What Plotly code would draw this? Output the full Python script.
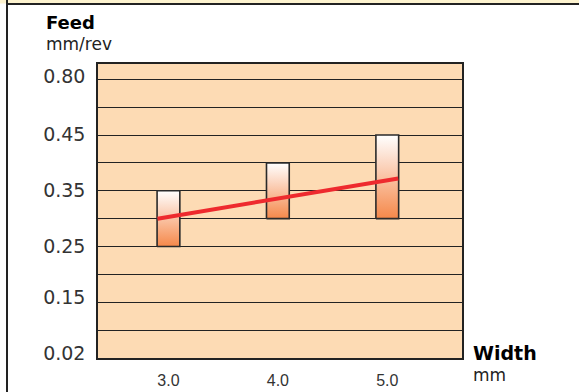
import plotly.graph_objects as go

# ---- data ----
widths = [3.0, 4.0, 5.0]
feed_low = [0.25, 0.30, 0.30]
feed_high = [0.35, 0.40, 0.45]
trend_x = [2.9, 5.1]
trend_y = [0.30, 0.372]
y_tick_vals = [0.555, 0.451, 0.351, 0.251, 0.1595, 0.0575]
y_tick_text = ["0.80", "0.45", "0.35", "0.25", "0.15", "0.02"]
x_tick_text = ["3.0", "4.0", "5.0"]

W, H = 579, 392
ML, MR, MT, MB = 98, 117, 64, 34
PW, PH = W - ML - MR, H - MT - MB
half = 0.104

fig = go.Figure()
for x, lo, hi in zip(widths, feed_low, feed_high):
    fig.add_trace(go.Scatter(
        x=[x - half, x + half, x + half, x - half, x - half],
        y=[lo, lo, hi, hi, lo],
        mode="lines", fill="toself",
        line=dict(color="#2a2a2a", width=1.6),
        fillgradient=dict(type="vertical",
                          colorscale=[[0, "#f5884a"], [1, "#ffffff"]]),
        hoverinfo="skip", showlegend=False))

fig.add_trace(go.Scatter(x=trend_x, y=trend_y, mode="lines",
                         line=dict(color="#ee2a2e", width=4),
                         showlegend=False, hoverinfo="skip"))

def px2paper_x(px):
    return (px - ML) / PW

def py2paper_y(py):
    return (H - MB - py) / PH

shapes = [
    dict(type="rect", xref="paper", yref="paper",
         x0=px2paper_x(0), x1=px2paper_x(W), y0=py2paper_y(3.5), y1=py2paper_y(0),
         fillcolor="#fdf3cf", line=dict(width=0), layer="below"),
    dict(type="line", xref="paper", yref="paper",
         x0=px2paper_x(7), x1=px2paper_x(W), y0=py2paper_y(4), y1=py2paper_y(4),
         line=dict(color="#222", width=2)),
    dict(type="line", xref="paper", yref="paper",
         x0=px2paper_x(7), x1=px2paper_x(7), y0=py2paper_y(0), y1=py2paper_y(H),
         line=dict(color="#222", width=2)),
]

annotations = [
    dict(text="<b>Feed</b>", xref="paper", yref="paper",
         x=px2paper_x(44), y=py2paper_y(23), xanchor="left", yanchor="middle",
         showarrow=False, font=dict(family="DejaVu Sans", size=18, color="#000")),
    dict(text="mm/rev", xref="paper", yref="paper",
         x=px2paper_x(44), y=py2paper_y(44), xanchor="left", yanchor="middle",
         showarrow=False, font=dict(family="DejaVu Sans", size=17, color="#222")),
    dict(text="<b>Width</b>", xref="paper", yref="paper",
         x=px2paper_x(471), y=py2paper_y(353), xanchor="left", yanchor="middle",
         showarrow=False, font=dict(family="DejaVu Sans", size=19, color="#000")),
    dict(text="mm", xref="paper", yref="paper",
         x=px2paper_x(471), y=py2paper_y(375), xanchor="left", yanchor="middle",
         showarrow=False, font=dict(family="DejaVu Sans", size=17, color="#222")),
]

fig.update_layout(
    width=W, height=H, autosize=False,
    margin=dict(l=ML, r=MR, t=MT, b=MB, autoexpand=False),
    paper_bgcolor="#ffffff", plot_bgcolor="#fddbb4",
    shapes=shapes, annotations=annotations,
    xaxis=dict(range=[2.356, 5.683], tickvals=widths, ticktext=x_tick_text,
               showgrid=False, zeroline=False, ticks="", automargin=False,
               showline=True, mirror=True, linecolor="#222", linewidth=1.5,
               ticklabelstandoff=7,
               tickfont=dict(family="Liberation Sans Narrow, Liberation Sans", size=16, color="#333")),
    yaxis=dict(range=[0.05, 0.5775], tickvals=y_tick_vals, ticktext=y_tick_text,
               showgrid=False, zeroline=False, ticks="", automargin=False,
               showline=True, mirror=True, linecolor="#222", linewidth=1.5,
               ticklabelstandoff=7,
               tickfont=dict(family="DejaVu Sans", size=19, color="#333"),
               minor=dict(showgrid=True, tick0=0.05, dtick=0.05,
                          gridcolor="#222", gridwidth=1.3)),
)

fig.write_html("out.html", post_script="document.body.style.margin='0';",
               config={"displayModeBar": False})
